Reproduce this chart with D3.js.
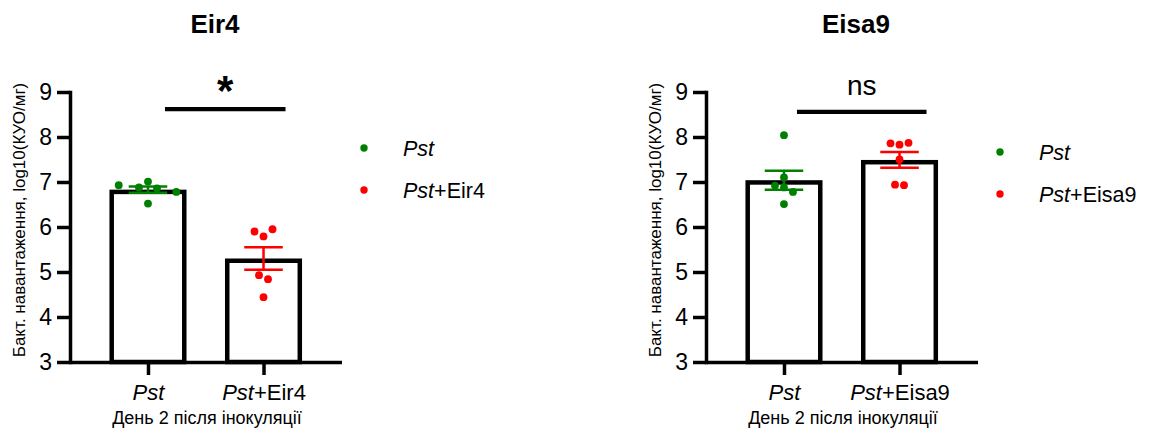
<!DOCTYPE html>
<html>
<head>
<meta charset="utf-8">
<script src="https://cdn.jsdelivr.net/npm/d3@7"></script>
<style>
body { margin: 0; background: #fff; }
text { font-family: Arial, "Liberation Sans", sans-serif; fill: #000; }
</style>
</head>
<body>
<div id="chart"></div>
<script>
// ---- data ----
var yTicks = [3, 4, 5, 6, 7, 8, 9];
var groupColors = ["#008000", "#ff0000"];

// Eir4 panel
var eir4Groups = ["Pst", "Pst+Eir4"];
var eir4Pst = [6.93, 6.88, 7.01, 6.86, 6.78, 6.52];
var eir4PstEir4 = [5.90, 5.79, 5.95, 4.93, 4.84, 4.44];
var eir4Means = [6.83, 5.30];
var eir4Sem = [0.07, 0.25];
var eir4Jitter = [[-6.5, -2, 0, 2, 6.3, 0], [-2, 0, 2, -1, 1, 0]]; // swarm slots
var eir4Sig = "*";

// Eisa9 panel
var eisa9Groups = ["Pst", "Pst+Eisa9"];
var eisa9Pst = [8.04, 7.10, 6.92, 6.88, 6.78, 6.51];
var eisa9PstEisa9 = [7.86, 7.83, 7.87, 7.50, 6.94, 6.93];
var eisa9Means = [7.04, 7.49];
var eisa9Sem = [0.21, 0.175];
var eisa9Jitter = [[0, 0, -2, 0, 2, 0], [-2, 0, 2, 0, -1, 1]];
var eisa9Sig = "ns";

var yLabel = "Бакт. навантаження, log10(КУО/мг)";
var xLabel = "День 2 після інокуляції";

var svg = d3.select("#chart").append("svg")
    .attr("width", 1154)
    .attr("height", 432);

var y = d3.scaleLinear().domain([3, 9]).range([362, 92]);

// writes "Pst" in italics and the rest upright
function groupLabel(sel, name) {
    sel.text("");
    sel.append("tspan").style("font-style", "italic").text(name.slice(0, 3));
    if (name.length > 3) sel.append("tspan").text(name.slice(3));
}

function drawPanel(p) {
    var g = svg.append("g").attr("transform", "translate(" + p.left + ",0)");

    var x = d3.scalePoint()
        .domain(p.groups)
        .range([0, 271.5])
        .padding(0.675);

    var barW = x.step() * 0.667,
        sw = 4.5,
        slot = 4.5;

    // title
    g.append("text")
        .attr("x", p.titleX)
        .attr("y", 32.5)
        .attr("text-anchor", "middle")
        .style("font-size", "26px")
        .style("font-weight", "bold")
        .text(p.title);

    // y axis
    var yAxis = g.append("g")
        .call(d3.axisLeft(y).tickValues(yTicks).tickFormat(d3.format("d"))
            .tickSize(13).tickPadding(5).tickSizeOuter(0));
    yAxis.select(".domain").attr("stroke-width", 3.5).attr("stroke-linecap", "square");
    yAxis.selectAll(".tick line").attr("stroke-width", 3.5);
    yAxis.selectAll(".tick text").style("font-size", "23px");

    // x axis
    var xAxis = g.append("g")
        .attr("transform", "translate(0," + y(3) + ")")
        .call(d3.axisBottom(x).tickSize(13).tickPadding(9).tickSizeOuter(0));
    xAxis.select(".domain").attr("stroke-width", 3.5);
    xAxis.selectAll(".tick line").attr("stroke-width", 3.5);
    xAxis.selectAll(".tick text")
        .style("font-size", "22px")
        .each(function(d) { groupLabel(d3.select(this), d); });

    // axis titles
    g.append("text")
        .attr("transform", "translate(-45," + 220 + ") rotate(-90)")
        .attr("text-anchor", "middle")
        .style("font-size", "17px")
        .text(yLabel);

    g.append("text")
        .attr("x", 137)
        .attr("y", 424)
        .attr("text-anchor", "middle")
        .style("font-size", "18px")
        .text(xLabel);

    // bars (stroke drawn inside the bar outline)
    g.append("g").selectAll("rect")
        .data(p.means)
        .enter().append("rect")
        .attr("x", function(d, i) { return x(p.groups[i]) - barW / 2 + sw / 2; })
        .attr("y", function(d) { return y(d) + sw / 2; })
        .attr("width", barW - sw)
        .attr("height", function(d) { return y(3) - y(d) - sw / 2; })
        .style("fill", "#fff")
        .style("stroke", "#000")
        .style("stroke-width", sw);

    // error bars (mean +/- SEM)
    var eb = g.append("g").selectAll("g")
        .data(p.means)
        .enter().append("g")
        .style("stroke", function(d, i) { return groupColors[i]; })
        .style("stroke-width", 2.5);
    eb.append("line")
        .attr("x1", function(d, i) { return x(p.groups[i]); })
        .attr("x2", function(d, i) { return x(p.groups[i]); })
        .attr("y1", function(d, i) { return y(d - p.sem[i]); })
        .attr("y2", function(d, i) { return y(d + p.sem[i]); });
    [-1, 1].forEach(function(s) {
        eb.append("line")
            .attr("x1", function(d, i) { return x(p.groups[i]) - barW / 4; })
            .attr("x2", function(d, i) { return x(p.groups[i]) + barW / 4; })
            .attr("y1", function(d, i) { return y(d + s * p.sem[i]); })
            .attr("y2", function(d, i) { return y(d + s * p.sem[i]); });
    });

    // individual points
    p.values.forEach(function(vals, gi) {
        g.append("g").selectAll("circle")
            .data(vals)
            .enter().append("circle")
            .attr("cx", function(d, i) { return x(p.groups[gi]) + p.jitter[gi][i] * slot; })
            .attr("cy", function(d) { return y(d); })
            .attr("r", 3.9)
            .style("fill", groupColors[gi]);
    });

    // significance bracket
    var sx0 = x(p.groups[0]) + p.sigOff[0],
        sx1 = x(p.groups[1]) + p.sigOff[1];
    g.append("line")
        .attr("x1", sx0).attr("x2", sx1)
        .attr("y1", y(p.sigLevel)).attr("y2", y(p.sigLevel))
        .style("stroke", "#000")
        .style("stroke-width", 4.3);
    g.append("text")
        .attr("x", (sx0 + sx1) / 2)
        .attr("y", p.sigY)
        .attr("text-anchor", "middle")
        .style("font-size", p.sig == "*" ? "42px" : "28px")
        .style("font-weight", p.sig == "*" ? "bold" : "normal")
        .text(p.sig);

    // legend
    var leg = g.append("g")
        .attr("transform", "translate(294," + p.legendY + ")")
        .selectAll("g")
        .data(p.groups)
        .enter().append("g")
        .attr("transform", function(d, i) { return "translate(0," + i * 42 + ")"; });
    leg.append("circle")
        .attr("r", 3.7)
        .style("fill", function(d, i) { return groupColors[i]; });
    leg.append("text")
        .attr("x", 39)
        .attr("y", 8)
        .style("font-size", "21.5px")
        .each(function(d) { groupLabel(d3.select(this), d); });
}

drawPanel({
    left: 70, title: "Eir4", titleX: 145,
    groups: eir4Groups, values: [eir4Pst, eir4PstEir4],
    means: eir4Means, sem: eir4Sem, jitter: eir4Jitter,
    sig: eir4Sig, sigLevel: 8.62, sigOff: [17, 22], sigY: 105,
    legendY: 148
});

drawPanel({
    left: 706, title: "Eisa9", titleX: 150,
    groups: eisa9Groups, values: [eisa9Pst, eisa9PstEisa9],
    means: eisa9Means, sem: eisa9Sem, jitter: eisa9Jitter,
    sig: eisa9Sig, sigLevel: 8.56, sigOff: [13, 27], sigY: 95,
    legendY: 152
});
</script>
</body>
</html>
